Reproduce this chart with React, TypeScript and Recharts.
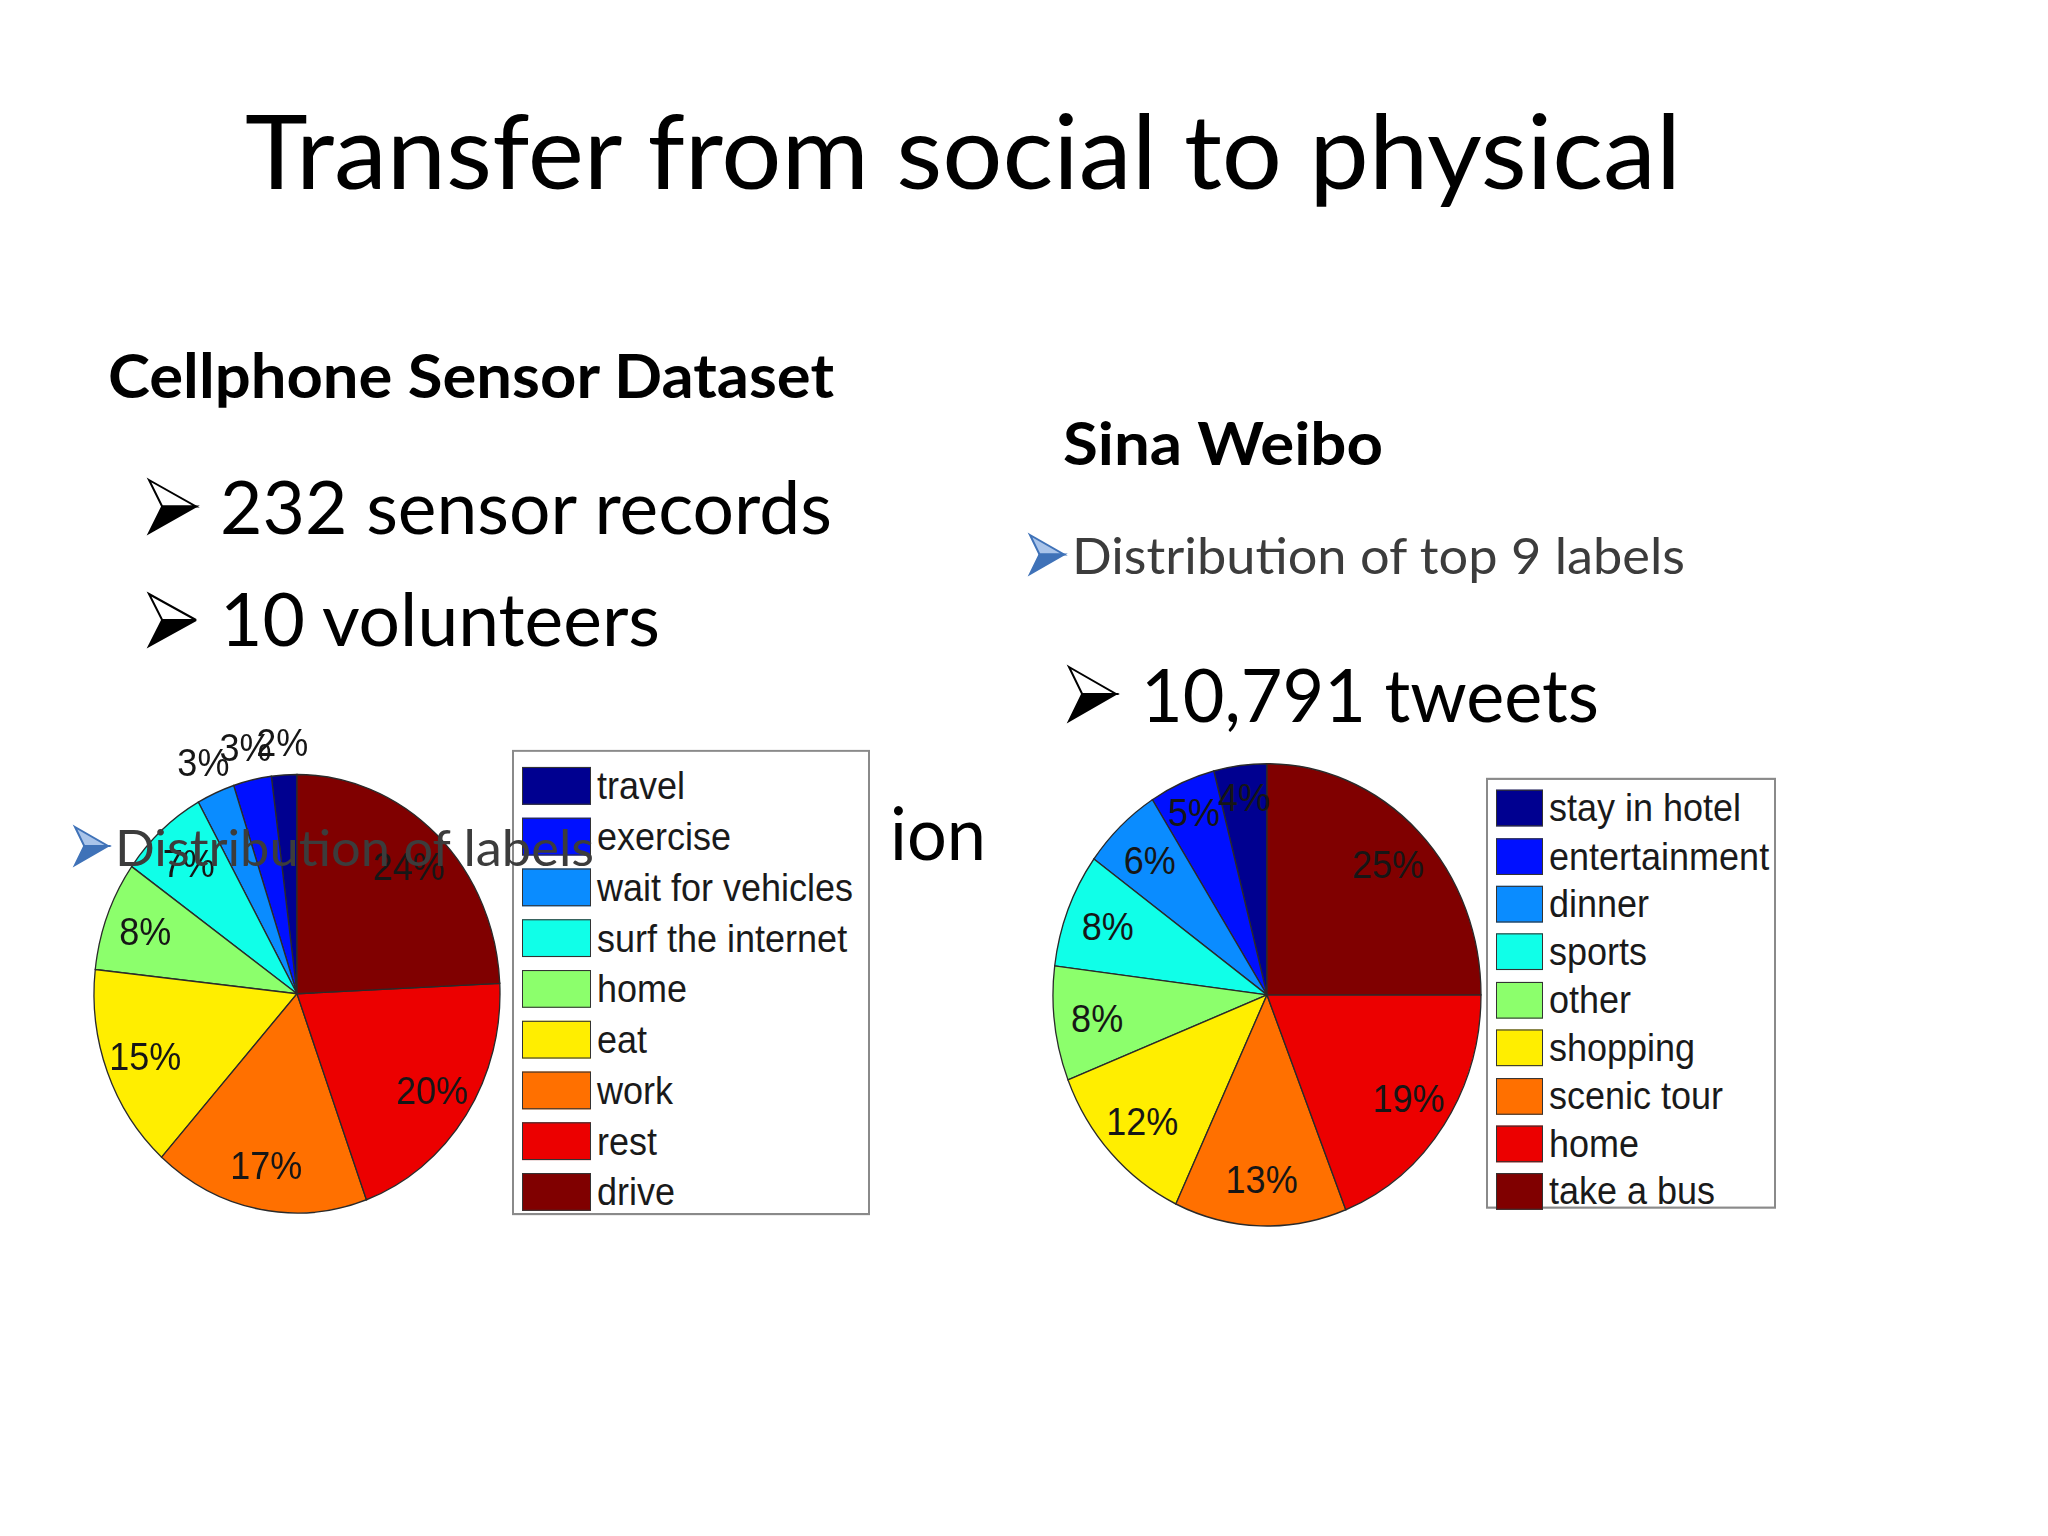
import { PieChart, Pie, Cell, Legend } from "recharts";

const sensorLabels = ["travel", "exercise", "wait for vehicles", "surf the internet", "home", "eat", "work", "rest", "drive"];
const sensorShares = [2, 3, 3, 7, 8, 15, 17, 20, 24];

const weiboLabels = ["stay in hotel", "entertainment", "dinner", "sports", "other", "shopping", "scenic tour", "home", "take a bus"];
const weiboShares = [4, 5, 6, 8, 8, 12, 13, 19, 25];

// matlab "jet" style colours, one per slice
const jetColors = ["#000090", "#0010ff", "#0a8cff", "#10ffe8", "#8cff6c", "#ffee00", "#ff7000", "#ec0000", "#800000"];

const RAD = Math.PI / 180;
const STRETCH = 1.08;

const sensorData = sensorLabels.map((name, i) => ({ name, value: sensorShares[i] }));
const weiboData = weiboLabels.map((name, i) => ({ name, value: weiboShares[i] }));

function sliceLabel(props: any) {
  const { cx, cy, midAngle, outerRadius, value } = props;
  const f = value < 4 ? 1.15 : value <= 5 ? 0.86 : 0.8;
  const r = outerRadius * f;
  const x = cx + r * Math.cos(-midAngle * RAD);
  const y = cy + r * Math.sin(-midAngle * RAD);
  return (
    <text
      x={x}
      y={y}
      textAnchor="middle"
      dominantBaseline="central"
      fill="#161616"
      fontFamily="'Liberation Sans', Arial, sans-serif"
      fontSize={36}
    >
      {value}%
    </text>
  );
}

type BoxProps = { payload?: any[]; names: string[]; width: number; height: number; pad: number; pitch: number; swatchW: number; swatchH: number };

function LegendBox({ payload = [], names, width, height, pad, pitch, swatchW, swatchH }: BoxProps) {
  // keep the legend in slice order, not alphabetical
  const items = [...payload].sort((a, b) => names.indexOf(a.value) - names.indexOf(b.value));
  return (
    <div
      style={{
        width,
        height,
        boxSizing: "border-box",
        border: "2px solid #8a8a8a",
        background: "#fff",
        paddingTop: pad,
        paddingLeft: 8,
      }}
    >
      {items.map((p) => (
        <div key={p.value} style={{ display: "flex", alignItems: "center", height: pitch }}>
          <span
            style={{
              display: "inline-block",
              width: swatchW,
              height: swatchH,
              background: p.color,
              border: "1px solid #333",
              boxSizing: "border-box",
              marginRight: 6,
            }}
          />
          <span style={{ fontFamily: "'Liberation Sans', Arial, sans-serif", fontSize: 36, color: "#1a1a1a", lineHeight: 1, whiteSpace: "nowrap" }}>
            {p.value}
          </span>
        </div>
      ))}
    </div>
  );
}

type PanelProps = {
  data: { name: string; value: number }[];
  left: number;
  top: number;
  width: number;
  height: number;
  cx: number;
  cy: number;
  radius: number;
  legend: { left: number; top: number } & Omit<BoxProps, "payload" | "names">;
};

function PiePanel({ data, left, top, width, height, cx, cy, radius, legend }: PanelProps) {
  const { left: lx, top: ly, ...box } = legend;
  const names = data.map((d) => d.name);
  return (
    <div style={{ position: "absolute", left, top, transform: `scaleY(${STRETCH})`, transformOrigin: "0 0" }}>
      <PieChart width={width} height={height} margin={{ top: 0, right: 0, bottom: 0, left: 0 }}>
        <Pie
          data={data}
          dataKey="value"
          nameKey="name"
          cx={cx}
          cy={cy}
          outerRadius={radius}
          startAngle={90}
          endAngle={450}
          stroke="#2a2a2a"
          strokeWidth={1.3}
          label={sliceLabel}
          labelLine={false}
          isAnimationActive={false}
        >
          {data.map((d, i) => (
            <Cell key={d.name} fill={jetColors[i]} />
          ))}
        </Pie>
        <Legend
          layout="vertical"
          align="right"
          verticalAlign="top"
          wrapperStyle={{ left: lx, top: ly, right: "auto", bottom: "auto", width: box.width }}
          content={(p: any) => <LegendBox payload={p.payload} names={names} {...box} />}
        />
      </PieChart>
    </div>
  );
}

const font = "Lato, 'Open Sans', sans-serif";

// 3-D arrowhead bullet (the slide's wingdings bullet)
function Arrow({ x, y, w, h, light, dark }: { x: number; y: number; w: number; h: number; light: string; dark: string }) {
  const mid = y + h / 2;
  const notch = x + w * 0.28;
  return (
    <g>
      <polygon points={`${x},${y} ${x + w},${mid} ${notch},${mid}`} fill={light} stroke={dark} strokeWidth={2} strokeLinejoin="miter" />
      <polygon points={`${notch},${mid} ${x + w},${mid} ${x},${y + h}`} fill={dark} stroke={dark} strokeWidth={2} strokeLinejoin="miter" />
    </g>
  );
}

function SlideText() {
  return (
    <svg width={2048} height={1536} style={{ position: "absolute", left: 0, top: 0, pointerEvents: "none", zIndex: 2 }}>
      <text x={245} y={189} fontFamily={font} fontSize={103} fill="#000" textLength={1436} lengthAdjust="spacingAndGlyphs">
        Transfer from social to physical
      </text>

      <text x={108} y={398} fontFamily={font} fontWeight={700} fontSize={61} fill="#000" textLength={726} lengthAdjust="spacingAndGlyphs">
        Cellphone Sensor Dataset
      </text>
      <Arrow x={149} y={480} w={47} h={53} light="#fff" dark="#000" />
      <text x={220} y={534} fontFamily={font} fontSize={74} fill="#000" textLength={612} lengthAdjust="spacingAndGlyphs">
        232 sensor records
      </text>
      <Arrow x={149} y={594} w={47} h={52} light="#fff" dark="#000" />
      <text x={220} y={646} fontFamily={font} fontSize={74} fill="#000" textLength={440} lengthAdjust="spacingAndGlyphs">
        10 volunteers
      </text>

      <text x={1063} y={465} fontFamily={font} fontWeight={700} fontSize={60} fill="#000" textLength={320} lengthAdjust="spacingAndGlyphs">
        Sina Weibo
      </text>
      <Arrow x={1030} y={535} w={34} h={39} light="#a9c4ea" dark="#3f72b8" />
      <text x={1072} y={574} fontFamily={font} fontSize={50} fill="#3c3c3c" textLength={613} lengthAdjust="spacingAndGlyphs">
        Distribution of top 9 labels
      </text>
      <Arrow x={1069} y={667} w={47} h={54} light="#fff" dark="#000" />
      <text x={1141} y={722} fontFamily={font} fontSize={74} fill="#000" textLength={458} lengthAdjust="spacingAndGlyphs">
        10,791 tweets
      </text>

      <text x={890} y={860} fontFamily={font} fontSize={74} fill="#000" textLength={96} lengthAdjust="spacingAndGlyphs">
        ion
      </text>
      <Arrow x={75} y={827} w={33} h={38} light="#a9c4ea" dark="#3f72b8" />
      <text x={115} y={866} fontFamily={font} fontSize={50} fill="#3c3c3c" textLength={479} lengthAdjust="spacingAndGlyphs">
        Distribution of labels
      </text>
    </svg>
  );
}

export default function App() {
  return (
    <div style={{ position: "absolute", left: 0, top: 0, width: 2048, height: 1536, background: "#fff", overflow: "hidden" }}>
      <PiePanel
        data={sensorData}
        left={60}
        top={700}
        width={840}
        height={500}
        cx={237}
        cy={272}
        radius={203}
        legend={{ left: 452, top: 46, width: 358, height: 431, pad: 8, pitch: 47, swatchW: 69, swatchH: 35 }}
      />
      <PiePanel
        data={weiboData}
        left={1040}
        top={740}
        width={760}
        height={460}
        cx={227}
        cy={236}
        radius={214}
        legend={{ left: 446, top: 35, width: 290, height: 399, pad: 4, pitch: 44.4, swatchW: 47, swatchH: 34 }}
      />
      <SlideText />
    </div>
  );
}
